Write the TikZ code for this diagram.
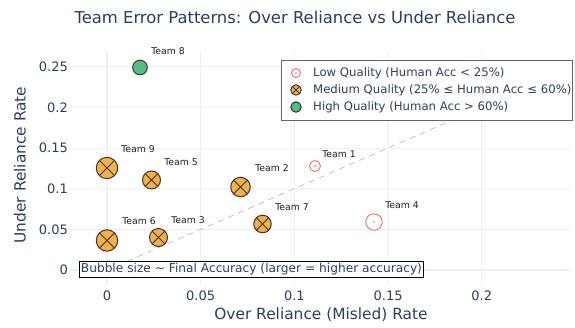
\documentclass[tikz,border=0pt]{standalone}
\usepackage{fontspec}
\setmainfont{DejaVu Sans}
\definecolor{txt}{RGB}{42,63,95}
\definecolor{gridc}{RGB}{235,240,248}
\definecolor{orng}{RGB}{245,176,65}
\definecolor{grn}{RGB}{82,190,128}
\definecolor{lowred}{RGB}{239,112,100}
\definecolor{edgec}{RGB}{55,55,55}
\definecolor{lblc}{RGB}{30,30,30}
\tikzset{
  med/.style={circle, draw=edgec, fill=orng, line width=1pt, minimum size=#1, inner sep=0pt,
    path picture={\draw[edgec, line width=1pt]
      (path picture bounding box.north west) -- (path picture bounding box.south east)
      (path picture bounding box.north east) -- (path picture bounding box.south west);}},
  low/.style={circle, draw=lowred, fill=white, line width=0.9pt, minimum size=#1, inner sep=0pt,
    path picture={\fill[lowred] (path picture bounding box.center) circle (0.9pt);}},
  high/.style={circle, draw=edgec, fill=grn, line width=1pt, minimum size=#1, inner sep=0pt},
  lbl/.style={text=lblc, font=\fontsize{9.3}{11}\selectfont, inner sep=0pt},
  tick/.style={text=txt, font=\fontsize{13}{16}\selectfont, inner sep=0pt},
  gridline/.style={draw=gridc, line width=1pt},
  legtxt/.style={text=txt, font=\fontsize{11.7}{14}\selectfont, inner sep=0pt, anchor=west},
}
\begin{document}
\begin{tikzpicture}[x=1pt,y=-1pt]
\useasboundingbox (0,0) rectangle (575,327);
% title
\node[text=txt, font=\fontsize{16.4}{19}\selectfont] (title) at (295,17) {Team Error Patterns: Over Reliance vs Under Reliance};
% grid
\foreach \gx in {107,200.7,294.4,388.1,481.8} \draw[gridline] (\gx,52) -- (\gx,284);
\foreach \gy in {270,229.35,188.7,148.05,107.4,66.75} \draw[gridline] (70,\gy) -- (570,\gy);
\draw[gridc, line width=2pt] (107,52) -- (107,284);
\draw[gridc, line width=2pt] (70,270) -- (570,270);
% tick labels
\node[tick, anchor=east] (y0) at (68,270) {0};
\node[tick, anchor=east] (y1) at (68,229.35) {0.05};
\node[tick, anchor=east] (y2) at (68,188.7) {0.1};
\node[tick, anchor=east] (y3) at (68,148.05) {0.15};
\node[tick, anchor=east] (y4) at (68,107.4) {0.2};
\node[tick, anchor=east] (y5) at (68,66.75) {0.25};
\node[tick] (x0) at (107,296) {0};
\node[tick] (x1) at (200.7,296) {0.05};
\node[tick] (x2) at (294.4,296) {0.1};
\node[tick] (x3) at (388.1,296) {0.15};
\node[tick] (x4) at (481.8,296) {0.2};
% axis titles
\node[text=txt, font=\fontsize{15.4}{18}\selectfont] (xt) at (321,315) {Over Reliance (Misled) Rate};
\node[text=txt, font=\fontsize{15.4}{18}\selectfont, rotate=90] (yt) at (20,165) {Under Reliance Rate};
% diagonal reference line
\coordinate (d0) at (107,270);
\coordinate (d1) at (570,69);
\begin{scope}
\clip (70,52) rectangle (570,284);
\draw[gray!55, dash pattern=on 6pt off 5pt, line width=0.7pt] (d0) -- (d1);
\end{scope}
% markers
\node[high=14.6pt] (t8) at (140,67.5) {};
\node[med=21.4pt] (t9) at (107,168) {};
\node[med=18pt] (t5) at (151.5,180) {};
\node[med=19.5pt] (t2) at (240.5,187) {};
\node[med=17.5pt] (t7) at (262.5,224) {};
\node[med=21.4pt] (t6) at (107,240.5) {};
\node[med=18pt] (t3) at (158.5,237.5) {};
\node[low=11pt] (t1) at (315,166) {};
\node[low=16.5pt] (t4) at (374,222) {};
% labels
\node[lbl] (l8) at (168,51) {Team 8};
\node[lbl] (l9) at (138,149) {Team 9};
\node[lbl] (l5) at (181,162) {Team 5};
\node[lbl] (l2) at (272,168) {Team 2};
\node[lbl] (l7) at (292,207) {Team 7};
\node[lbl] (l6) at (139,221) {Team 6};
\node[lbl] (l3) at (188,220) {Team 3};
\node[lbl] (l1) at (339,154) {Team 1};
\node[lbl] (l4) at (402,205) {Team 4};
% legend
\node[draw=gray!80!black, fill=white, line width=0.8pt, minimum width=291pt, minimum height=60pt, anchor=north west, inner sep=0pt] (leg) at (281,59.5) {};
\node[low=9pt] (lm1) at (296,73) {};
\node[med=10.5pt, line width=0.9pt] (lm2) at (296,90) {};
\node[high=10.5pt] (lm3) at (296,107) {};
\node[legtxt] (lt1) at (313,73) {Low Quality (Human Acc < 25\%)};
\node[legtxt] (lt2) at (313,90) {Medium Quality (25\% ≤ Human Acc ≤ 60\%)};
\node[legtxt] (lt3) at (313,107) {High Quality (Human Acc > 60\%)};
% annotation
\node[draw=black, fill=white, line width=0.8pt, text=txt, font=\fontsize{12.2}{15}\selectfont, inner xsep=1.5pt, inner ysep=2pt, anchor=west] (note) at (79,269.5) {Bubble size \textasciitilde{} Final Accuracy (larger = higher accuracy)};
\end{tikzpicture}
\end{document}
